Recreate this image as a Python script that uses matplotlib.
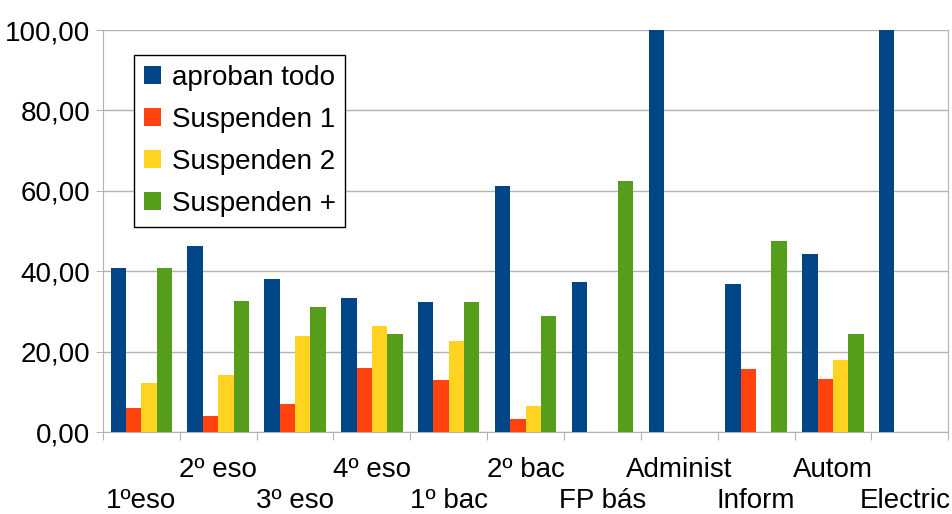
import numpy as np
import matplotlib
matplotlib.use("Agg")
import matplotlib.pyplot as plt
import matplotlib.transforms as mtransforms
from matplotlib.ticker import FuncFormatter

# data
categories = ["1ºeso", "2º eso", "3º eso", "4º eso", "1º bac", "2º bac",
              "FP bás", "Administ", "Inform", "Autom", "Electric"]
aproban_todo = [40.8, 46.3, 38.0, 33.4, 32.3, 61.3, 37.4, 100.0, 36.8, 44.4, 100.0]
suspenden_1 = [6.0, 4.1, 7.0, 15.9, 12.9, 3.2, 0.0, 0.0, 15.8, 13.3, 0.0]
suspenden_2 = [12.3, 14.3, 24.0, 26.3, 22.6, 6.5, 0.0, 0.0, 0.0, 17.9, 0.0]
suspenden_mas = [40.8, 32.7, 31.0, 24.5, 32.3, 28.9, 62.5, 0.0, 47.4, 24.5, 0.0]

series = [
    ("aproban todo", aproban_todo, "#004586"),
    ("Suspenden 1", suspenden_1, "#ff420e"),
    ("Suspenden 2", suspenden_2, "#ffd320"),
    ("Suspenden +", suspenden_mas, "#579d1c"),
]

plt.rcParams['font.family'] = ['Liberation Sans', 'DejaVu Sans']
fs = 20

fig = plt.figure(figsize=(9.53, 5.14), dpi=100)
ax = fig.add_axes([0.108, 0.1595, 0.887, 0.7821])

x = np.arange(len(categories))
w = 0.2
for i, (name, vals, col) in enumerate(series):
    ax.bar(x - 0.3 + i * w, vals, w, color=col, label=name, zorder=3)

ax.set_xlim(-0.5, len(categories) - 0.5)
ax.set_ylim(0, 100)
ax.set_yticks(np.arange(0, 101, 20))
ax.yaxis.set_major_formatter(FuncFormatter(lambda v, p: f"{v:.2f}".replace(".", ",")))
ax.grid(axis='y', color='#b3b3b3', linewidth=1, zorder=0)

# category boundaries as tick marks, labels at the centres (two staggered rows)
ax.set_xticks(np.arange(-0.5, len(categories), 1.0))
ax.set_xticklabels([])
ax.set_xticks(x, minor=True)
ax.set_xticklabels(categories, minor=True, fontsize=fs)
ax.tick_params(axis='x', which='major', length=6, color='#b3b3b3', direction='out')
ax.tick_params(axis='x', which='minor', length=0)
for i, t in enumerate(ax.xaxis.get_minor_ticks()):
    t.set_pad(18 if i % 2 == 1 else 40)
# nudge the last label so it stays inside the figure
last = ax.xaxis.get_minor_ticks()[-1].label1
last.set_transform(last.get_transform() +
                   mtransforms.ScaledTranslation(-5 / 100, 0, fig.dpi_scale_trans))
ax.tick_params(axis='y', labelsize=fs, length=5, color='#b3b3b3', pad=4)

for s in ['left', 'right', 'bottom']:
    ax.spines[s].set_color('#b3b3b3')
ax.spines['top'].set_visible(False)

leg = ax.legend(loc='upper left', bbox_to_anchor=(0.037, 0.938), borderaxespad=0,
                fontsize=fs, fancybox=False, edgecolor='black', framealpha=1,
                handlelength=0.6, handleheight=0.6, handletextpad=0.4,
                labelspacing=0.58, borderpad=0.35)
leg.get_frame().set_linewidth(1)

fig.savefig("out.png", dpi=100)
